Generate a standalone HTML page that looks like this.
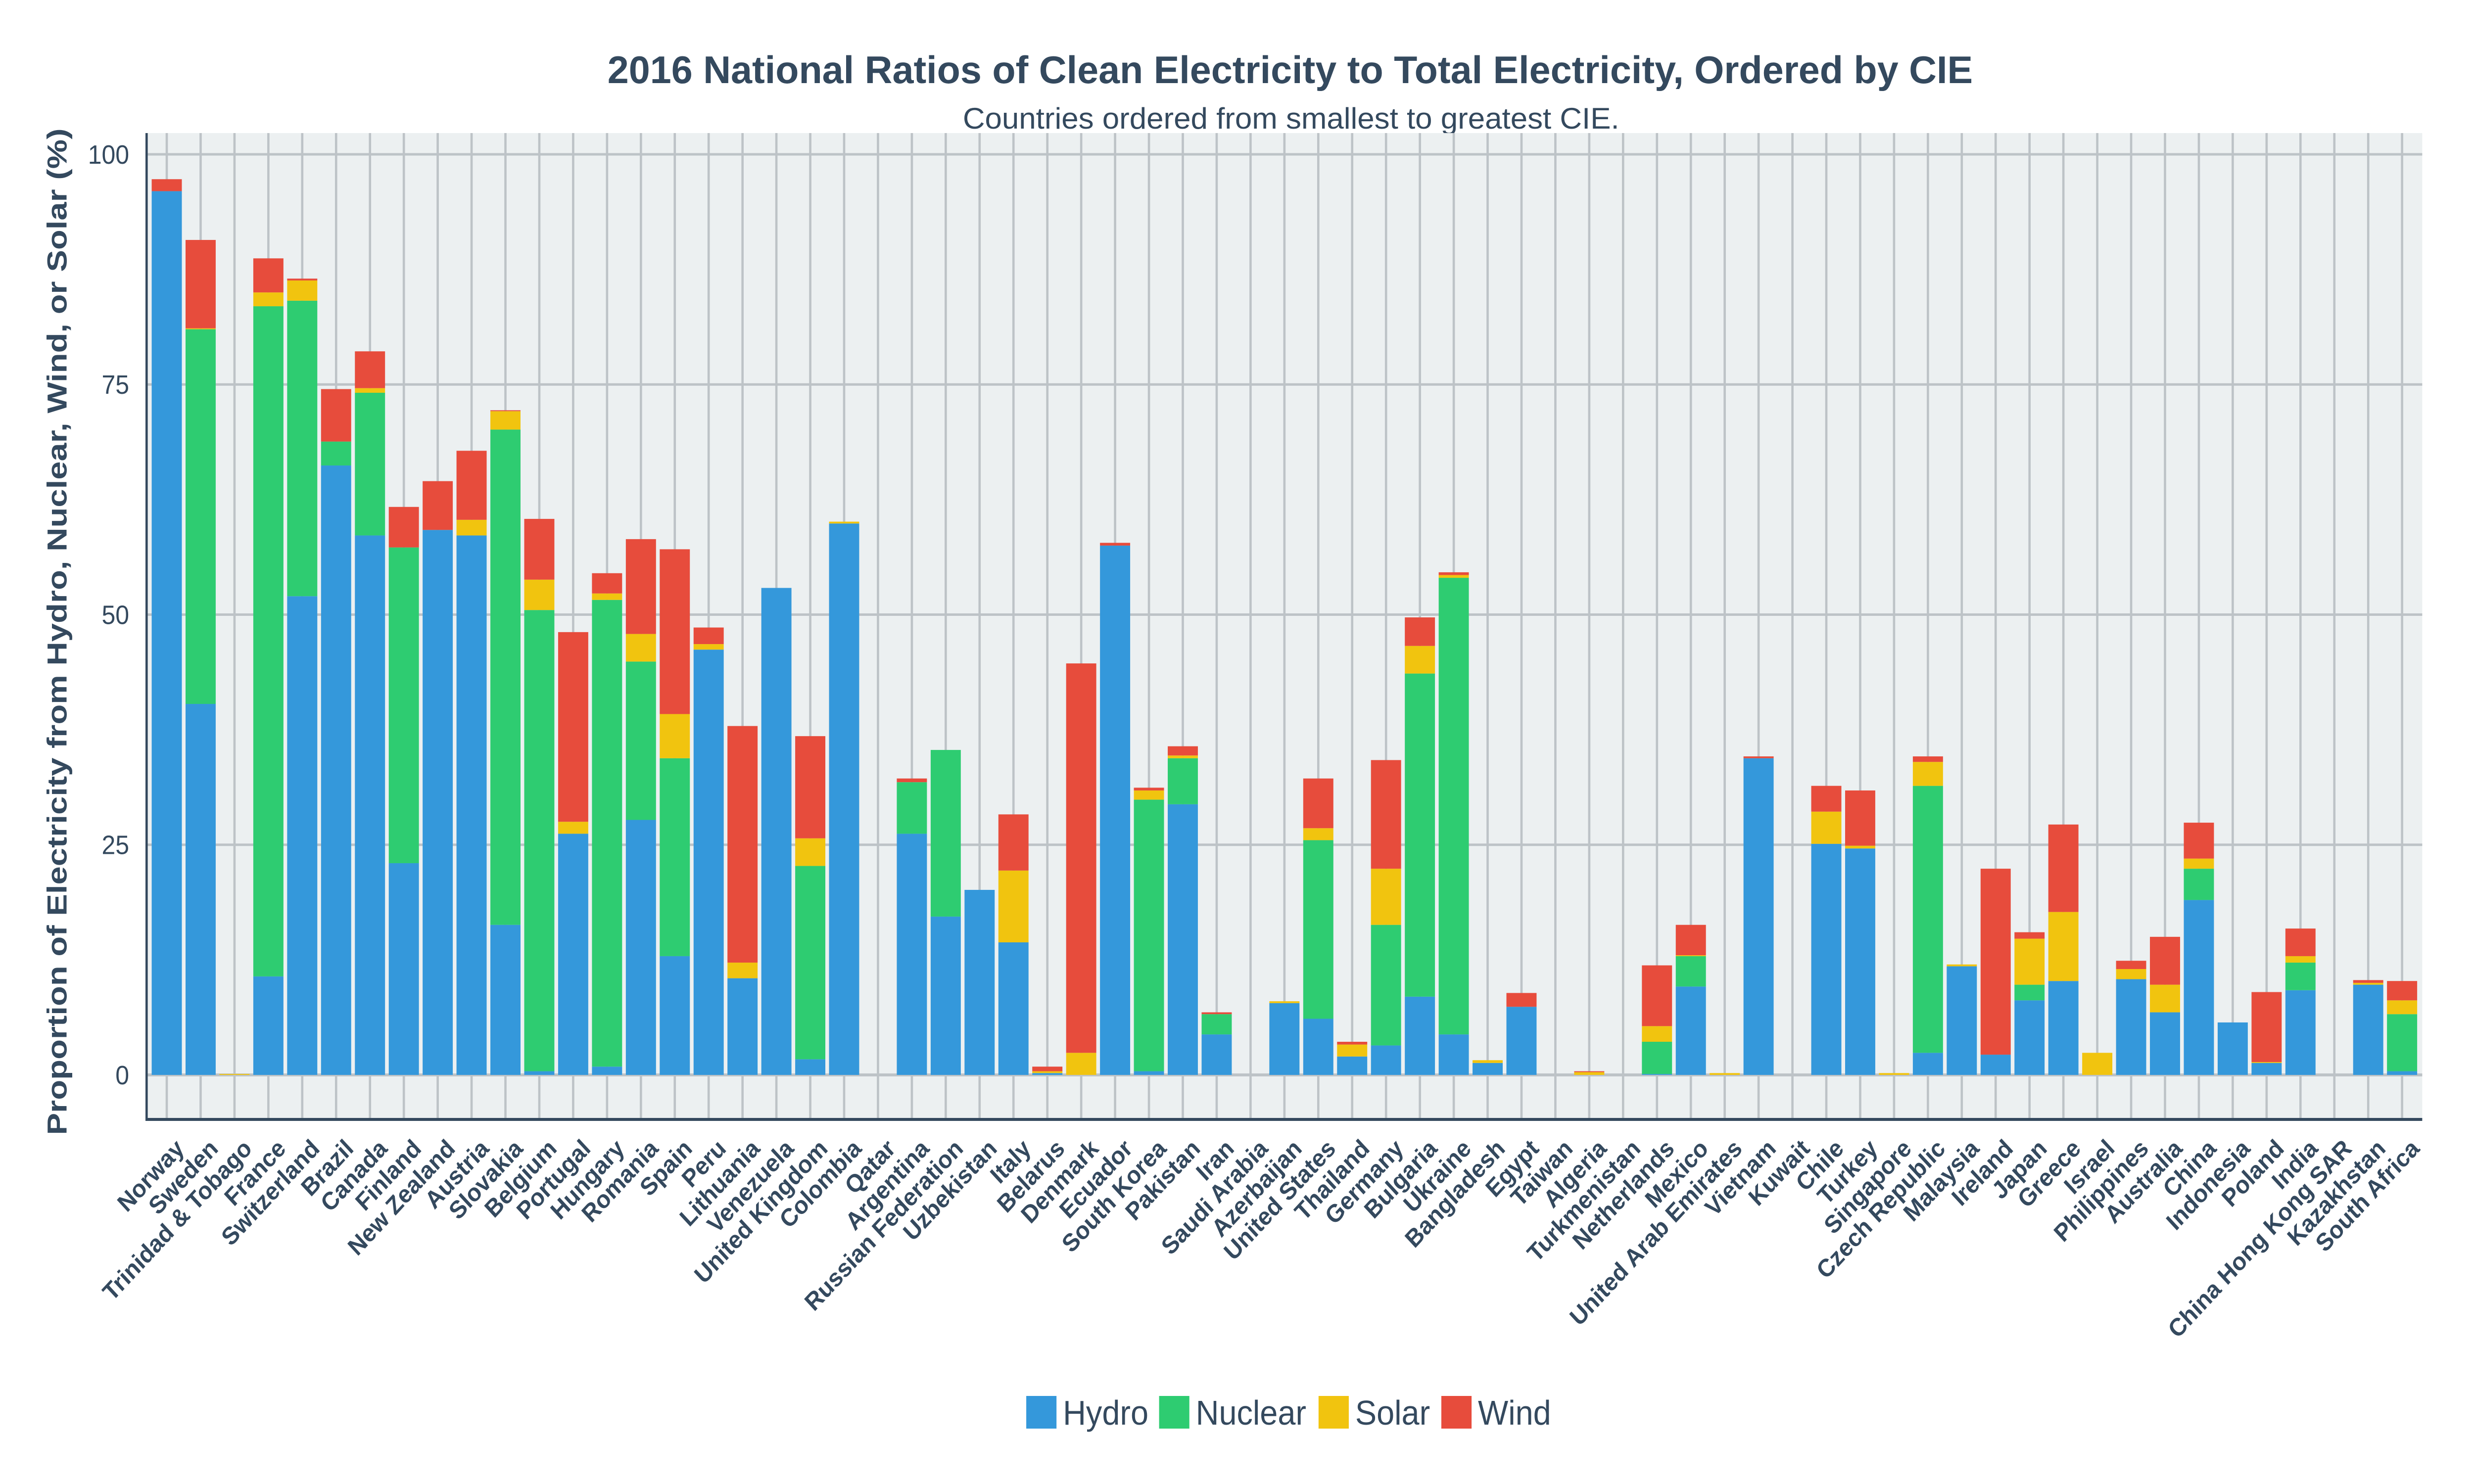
<!DOCTYPE html>
<html><head><meta charset="utf-8"><style>
html,body{margin:0;padding:0;background:#fff;width:100%;height:100%;overflow:hidden;}
svg{display:block;position:absolute;left:0;top:0;width:100vw;height:100vh;}
text{font-family:"Liberation Sans",sans-serif;fill:#34495e;}
</style></head><body>
<svg id="chart" xmlns="http://www.w3.org/2000/svg" viewBox="0 0 5400 3000" preserveAspectRatio="none">
<rect x="0" y="0" width="5400" height="3000" fill="#fff"/>
<text x="2816" y="168" text-anchor="middle" font-size="78" font-weight="bold" textLength="2980" lengthAdjust="spacingAndGlyphs">2016 National Ratios of Clean Electricity to Total Electricity, Ordered by CIE</text>
<text x="2818" y="260" text-anchor="middle" font-size="60" textLength="1433" lengthAdjust="spacingAndGlyphs">Countries ordered from smallest to greatest CIE.</text>
<rect x="320" y="269" width="4967" height="1994" fill="#ecf0f1"/>
<g id="grid"></g>
<g id="bars"></g>
<g id="axes"></g>
<text transform="translate(145,1277) rotate(-90)" text-anchor="middle" font-size="60" font-weight="bold" textLength="2035" lengthAdjust="spacingAndGlyphs">Proportion of Electricity from Hydro, Nuclear, Wind, or Solar (%)</text>
<g id="legend"></g>
</svg>
<script>
const categories=["Norway","Sweden","Trinidad & Tobago","France","Switzerland","Brazil","Canada","Finland","New Zealand","Austria","Slovakia","Belgium","Portugal","Hungary","Romania","Spain","Peru","Lithuania","Venezuela","United Kingdom","Colombia","Qatar","Argentina","Russian Federation","Uzbekistan","Italy","Belarus","Denmark","Ecuador","South Korea","Pakistan","Iran","Saudi Arabia","Azerbaijan","United States","Thailand","Germany","Bulgaria","Ukraine","Bangladesh","Egypt","Taiwan","Algeria","Turkmenistan","Netherlands","Mexico","United Arab Emirates","Vietnam","Kuwait","Chile","Turkey","Singapore","Czech Republic","Malaysia","Ireland","Japan","Greece","Israel","Philippines","Australia","China","Indonesia","Poland","India","China Hong Kong SAR","Kazakhstan","South Africa"];
const hydro=[96,40.3,0,10.7,52,66.2,58.6,23,59.2,58.6,16.3,0.4,26.2,0.9,27.7,12.9,46.2,10.5,52.9,1.7,59.9,0,26.2,17.2,20.1,14.4,0.2,0,57.5,0.4,29.4,4.4,0,7.8,6.1,2.0,3.2,8.5,4.4,1.3,7.4,0,0,0,0.1,9.6,0,34.4,0,25.1,24.6,0,2.4,11.8,2.2,8.1,10.2,0,10.4,6.8,19,5.7,1.3,9.2,0,9.8,0.4];
const nuclear=[0,40.7,0,72.8,32.1,2.6,15.5,34.3,0,0,53.8,50.1,0,50.7,17.2,21.5,0,0,0,21,0,0,5.6,18.1,0,0,0,0,0,29.5,5,2.2,0,0,19.4,0,13.1,35.1,49.6,0,0,0,0,0,3.5,3.3,0,0,0,0,0,0,29,0,0,1.7,0,0,0,0,3.4,0,0,3.0,0,0,6.2];
const solar=[0,0.1,0.1,1.5,2.2,0,0.5,0,0,1.7,2.0,3.3,1.3,0.7,3,4.8,0.6,1.7,0,3,0.2,0,0,0,0,7.8,0.2,2.4,0,1.0,0.3,0,0,0.2,1.3,1.3,6.1,3.0,0.3,0.3,0,0,0.3,0,1.7,0.1,0.2,0,0,3.5,0.3,0.2,2.6,0.2,0,5.0,7.5,2.4,1.1,3.0,1.1,0,0.1,0.7,0,0.2,1.5];
const wind=[1.3,9.6,0,3.7,0.2,5.7,4,4.4,5.3,7.5,0.1,6.6,20.6,2.2,10.3,17.9,1.8,25.7,0,11.1,0,0,0.4,0,0,6.1,0.5,42.3,0.3,0.3,1.0,0.2,0,0,5.4,0.3,11.8,3.1,0.3,0,1.5,0,0.1,0,6.6,3.3,0,0.2,0,2.8,6.0,0,0.6,0,20.2,0.7,9.5,0,0.9,5.2,3.9,0,7.6,3.0,0,0.3,2.1];
const yTicks=[0,25,50,75,100];
const seriesNames=["Hydro","Nuclear","Solar","Wind"];
const seriesColors=["#3498db","#2ecc71","#f1c40f","#e74c3c"];

const NS="http://www.w3.org/2000/svg";
const L=320,R=5287,T=269,B=2263,Y0=2173,Y100=312;
const n=categories.length;
const band=(R-L)/(n+0.19);
function xScale(i){return L+band*(i+0.595);}
function yScale(v){return Y0-(Y0-Y100)*v/100;}
function mk(tag,attrs,parent){const e=document.createElementNS(NS,tag);for(const k in attrs)e.setAttribute(k,attrs[k]);parent.appendChild(e);return e;}
const grid=document.getElementById('grid'),bars=document.getElementById('bars'),axes=document.getElementById('axes'),legend=document.getElementById('legend');
categories.forEach((c,i)=>{
  const g=mk('line',{x1:xScale(i),x2:xScale(i),y1:T,y2:B,stroke:'#bdc3c7','stroke-width':5},grid);
  
  
});
yTicks.forEach(v=>{
  const g=mk('line',{x1:L,x2:R,y1:yScale(v),y2:yScale(v),stroke:'#bdc3c7','stroke-width':v===0?6:5},grid);
  
  
  const t=mk('text',{x:282,y:yScale(v)+19,'text-anchor':'end','font-size':54},axes);
  t.textContent=v;
  
  
});
const series=[hydro,nuclear,solar,wind];
const bw=band*0.89;
categories.forEach((c,i)=>{
  let base=0;
  series.forEach((s,k)=>{
    const v=s[i];
    if(v>0){
      const r=mk('rect',{x:xScale(i)-bw/2,y:yScale(base+v),width:bw,height:yScale(base)-yScale(base+v),fill:seriesColors[k]},bars);
      
      
    }
    base+=v;
  });
  const t=mk('text',{transform:'translate('+(xScale(i)+16)+',2300) rotate(-45)','text-anchor':'end','font-size':50,'font-weight':'bold',dy:'0.7em'},axes);
  t.textContent=c;
  
  
});
const ya=mk('line',{x1:L,x2:L,y1:T,y2:B+3,stroke:'#34495e','stroke-width':5},axes);


const xa=mk('line',{x1:L,x2:R,y1:B,y2:B,stroke:'#34495e','stroke-width':6},axes);


const legX=[2240,2530,2878,3146];
seriesNames.forEach((nm,k)=>{
  const g=mk('g',{},legend);
  
  
  const r=mk('rect',{x:legX[k],y:2822,width:66,height:66,fill:seriesColors[k]},g);
  
  
  const t=mk('text',{x:legX[k]+80,y:2880,'font-size':70},g);
  t.textContent=nm;
  
  
});
</script>
</body></html>
